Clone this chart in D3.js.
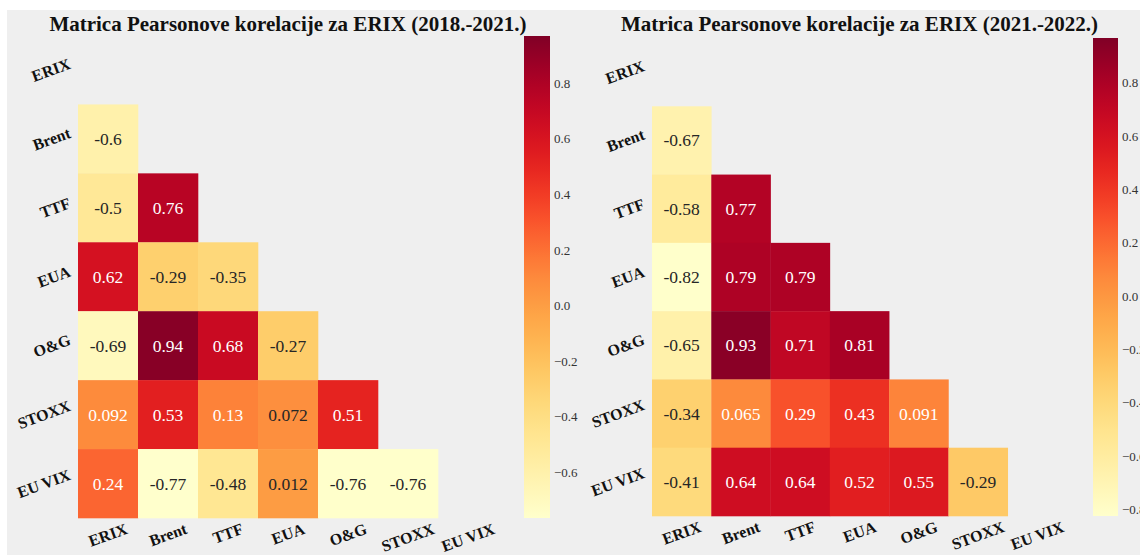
<!DOCTYPE html>
<html>
<head>
<meta charset="utf-8">
<script src="https://cdn.jsdelivr.net/npm/d3@7"></script>
<style>
  html, body { margin: 0; padding: 0; background: #ffffff; }
  svg { display: block; }
</style>
</head>
<body>
<svg id="chart" width="1140" height="555"></svg>
<script>
// ---------- DATA ----------
const labels = ["ERIX", "Brent", "TTF", "EUA", "O&G", "STOXX", "EU VIX"];

const titleLeft = "Matrica Pearsonove korelacije za ERIX (2018.-2021.)";
const titleRight = "Matrica Pearsonove korelacije za ERIX (2021.-2022.)";

// lower triangle rows (row i has i values: columns 0..i-1), row 0 (ERIX) masked
const corrLeft = [
  [],
  [-0.6],
  [-0.5, 0.76],
  [0.62, -0.29, -0.35],
  [-0.69, 0.94, 0.68, -0.27],
  [0.092, 0.53, 0.13, 0.072, 0.51],
  [0.24, -0.77, -0.48, 0.012, -0.76, -0.76]
];
const corrRight = [
  [],
  [-0.67],
  [-0.58, 0.77],
  [-0.82, 0.79, 0.79],
  [-0.65, 0.93, 0.71, 0.81],
  [-0.34, 0.065, 0.29, 0.43, 0.091],
  [-0.41, 0.64, 0.64, 0.52, 0.55, -0.29]
];

const colorDomainLeft = [-0.765, 0.97];
const colorDomainRight = [-0.825, 0.967];

const ticksLeft = [0.8, 0.6, 0.4, 0.2, 0.0, -0.2, -0.4, -0.6];
const ticksRight = [0.8, 0.6, 0.4, 0.2, 0.0, -0.2, -0.4, -0.6, -0.8];

// ---------- LAYOUT ----------
const panels = [
  { title: titleLeft, data: corrLeft, domain: colorDomainLeft, ticks: ticksLeft,
    gx: [78, 498], gy: [35.5, 518], cbx: 524, cbw: 26, cby: [36, 518], id: "L" },
  { title: titleRight, data: corrRight, domain: colorDomainRight, ticks: ticksRight,
    gx: [652, 1067], gy: [38, 516], cbx: 1093, cbw: 25, cby: [38, 516], id: "R" }
];

const svg = d3.select("#chart");
svg.append("rect").attr("x", 0).attr("y", 0).attr("width", 1140).attr("height", 555).attr("fill", "#ffffff");
svg.append("rect").attr("x", 7).attr("y", 10).attr("width", 1133).attr("height", 545).attr("fill", "#efefef");

const defs = svg.append("defs");
const SERIF = "'Liberation Serif', 'Times New Roman', serif";
const ang = 20 * Math.PI / 180;

function luminance(c) {
  const rgb = d3.rgb(c);
  const f = v => { v /= 255; return v <= 0.03928 ? v / 12.92 : Math.pow((v + 0.055) / 1.055, 2.4); };
  return 0.2126 * f(rgb.r) + 0.7152 * f(rgb.g) + 0.0722 * f(rgb.b);
}
function fmt(v) { return String(v); }

panels.forEach(p => {
  const g = svg.append("g");
  const x = d3.scaleBand().domain(labels).range(p.gx);
  const y = d3.scaleBand().domain(labels).range(p.gy);
  const color = d3.scaleSequential(d3.interpolateYlOrRd).domain(p.domain);

  const cells = [];
  p.data.forEach((row, i) => row.forEach((v, j) => cells.push({ r: labels[i], c: labels[j], v })));

  g.selectAll("rect.cell").data(cells).join("rect")
    .attr("class", "cell")
    .attr("x", d => x(d.c)).attr("y", d => y(d.r))
    .attr("width", x.bandwidth() + 0.3).attr("height", y.bandwidth() + 0.3)
    .attr("fill", d => color(d.v));

  g.selectAll("text.ann").data(cells).join("text")
    .attr("class", "ann")
    .attr("x", d => x(d.c) + x.bandwidth() / 2)
    .attr("y", d => y(d.r) + y.bandwidth() / 2)
    .attr("text-anchor", "middle").attr("dominant-baseline", "central")
    .attr("font-family", SERIF).attr("font-size", 17.5)
    .attr("fill", d => luminance(color(d.v)) > 0.408 ? "#262626" : "#ffffff")
    .text(d => fmt(d.v));

  // title
  g.append("text")
    .attr("x", (p.gx[0] + p.gx[1]) / 2).attr("y", 31)
    .attr("text-anchor", "middle")
    .attr("font-family", SERIF).attr("font-weight", "bold").attr("font-size", 21)
    .attr("fill", "#111")
    .text(p.title);

  // y labels (right aligned, rotated 20deg, matplotlib style bbox alignment)
  const lblFs = 16;
  const ylab = g.selectAll("text.ylab").data(labels).join("text")
    .attr("class", "ylab")
    .attr("font-family", SERIF).attr("font-weight", "bold").attr("font-size", lblFs)
    .attr("fill", "#111")
    .attr("text-anchor", "middle").attr("dominant-baseline", "central")
    .text(d => d);
  ylab.each(function (d) {
    const w = this.getComputedTextLength();
    const h = lblFs * 0.8;
    const W = w * Math.cos(ang) + h * Math.sin(ang);
    const cx = p.gx[0] - 6 - W / 2;
    const cy = y(d) + y.bandwidth() / 2;
    d3.select(this).attr("transform", `translate(${cx},${cy}) rotate(-20)`);
  });

  // x labels (centered, rotated 20deg)
  const xlab = g.selectAll("text.xlab").data(labels).join("text")
    .attr("class", "xlab")
    .attr("font-family", SERIF).attr("font-weight", "bold").attr("font-size", lblFs)
    .attr("fill", "#111")
    .attr("text-anchor", "middle").attr("dominant-baseline", "central")
    .text(d => d);
  xlab.each(function (d) {
    const w = this.getComputedTextLength();
    const h = lblFs * 0.8;
    const H = w * Math.sin(ang) + h * Math.cos(ang);
    const cx = x(d) + x.bandwidth() / 2;
    const cy = p.gy[1] + 4 + H / 2;
    d3.select(this).attr("transform", `translate(${cx},${cy}) rotate(-20)`);
  });

  // colorbar
  const cb = d3.scaleLinear().domain(p.domain).range([p.cby[1], p.cby[0]]);
  const grad = defs.append("linearGradient").attr("id", "grad" + p.id)
    .attr("x1", 0).attr("y1", 1).attr("x2", 0).attr("y2", 0);
  d3.range(0, 1.0001, 0.02).forEach(t => {
    grad.append("stop").attr("offset", t)
      .attr("stop-color", color(p.domain[0] + t * (p.domain[1] - p.domain[0])));
  });
  g.append("rect")
    .attr("x", p.cbx).attr("y", p.cby[0])
    .attr("width", p.cbw).attr("height", p.cby[1] - p.cby[0])
    .attr("fill", `url(#grad${p.id})`);

  const axis = d3.axisRight(cb).tickValues(p.ticks).tickSize(0).tickPadding(4)
    .tickFormat(v => d3.format(".1f")(v).replace("-", "\u2212"));
  const ax = g.append("g").attr("transform", `translate(${p.cbx + p.cbw},0)`).call(axis);
  ax.select(".domain").remove();
  ax.selectAll("text").attr("font-family", SERIF).attr("font-size", 13).attr("fill", "#333");
});
</script>
</body>
</html>
